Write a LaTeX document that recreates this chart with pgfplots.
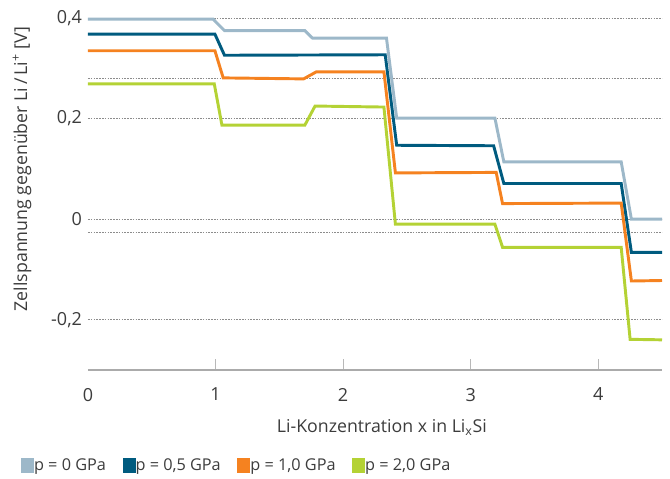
\documentclass[border=0pt]{standalone}
\usepackage{pgfplots}
\pgfplotsset{compat=1.18}
\usepackage{fontspec}
\setmainfont{Open Sans}
\definecolor{lblue}{HTML}{9DB8C9}
\definecolor{dblue}{HTML}{005B7F}
\definecolor{forange}{HTML}{F58220}
\definecolor{flime}{HTML}{B4D235}
\definecolor{txt}{HTML}{3C3C3C}
\begin{document}
\begin{tikzpicture}
\useasboundingbox (-66pt,-81pt) rectangle (436.5pt,277.5pt);
\begin{axis}[
  at={(0pt,0pt)}, anchor=south west,
  scale only axis, width=430.5pt, height=271.5pt,
  xmin=0, xmax=4.5, ymin=-0.3, ymax=0.42,
  axis x line*=bottom, axis y line*=left,
  x axis line style={draw=black!33, line width=0.8pt, -},
  y axis line style={draw=none},
  xtick={1,2,3,4},
  extra x ticks={0}, extra x tick style={major tick length=0pt},
  ytick={-0.2,0,0.2,0.4},
  extra y ticks={0.28,-0.026}, extra y tick labels={},
  extra y tick style={grid=major, major tick length=0pt},
  ytick style={draw=none},
  xtick style={draw=black!28, line width=0.8pt},
  tick align=inside, major tick length=8pt,
  ymajorgrids,
  major grid style={draw=black!45, line width=0.5pt, dash pattern=on 1.2pt off 0.9pt},
  /pgf/number format/use comma,
  /pgf/number format/assume math mode=true,
  tick label style={font=\fontsize{13.5}{15}\selectfont, text=txt},
  xticklabel style={yshift=-10pt},
  yticklabel style={xshift=-1pt},
  label style={font=\fontsize{13.3}{15}\selectfont, text=txt},
  xlabel={Li-Konzentration x in Li\textsubscript{x}Si},
  xlabel style={at={(axis description cs:0.512,-0.16)}, anchor=center},
  ylabel={Zellspannung gegenüber Li\,/\,Li\textsuperscript{+} [V]},
  ylabel style={at={(axis description cs:-0.115,0.555)}, anchor=center, rotate=0},
  legend columns=4,
  legend style={at={(axis description cs:-0.117,-0.265)}, anchor=west, draw=none,
    fill=none, font=\fontsize{12.2}{14}\selectfont, text=txt,
    /tikz/every odd column/.append style={column sep=-2pt},
    /tikz/every even column/.append style={column sep=10.5pt},
    inner sep=0pt},
  legend image code/.code={\fill[#1] (0pt,-4.5pt) rectangle (7.5pt,4.5pt);},
  every axis plot/.append style={line width=2.2pt, line join=miter},
]
\addplot[lblue] coordinates {(0,0.398)(0.98,0.398)(1.07,0.375)(1.70,0.375)(1.76,0.360)(2.34,0.360)(2.42,0.201)(3.19,0.201)(3.26,0.114)(4.18,0.114)(4.26,0)(4.5,0)};
\addplot[dblue] coordinates {(0,0.368)(0.995,0.368)(1.07,0.326)(2.33,0.327)(2.42,0.147)(3.18,0.146)(3.26,0.071)(4.18,0.071)(4.26,-0.066)(4.5,-0.066)};
\addplot[forange] coordinates {(0,0.335)(0.995,0.335)(1.06,0.281)(1.69,0.279)(1.79,0.293)(2.32,0.293)(2.41,0.092)(3.2,0.093)(3.25,0.031)(4.18,0.032)(4.26,-0.123)(4.5,-0.122)};
\addplot[flime] coordinates {(0,0.269)(0.99,0.269)(1.05,0.187)(1.70,0.187)(1.78,0.225)(2.32,0.223)(2.41,-0.010)(3.19,-0.010)(3.25,-0.056)(4.18,-0.056)(4.25,-0.239)(4.5,-0.240)};
\legend{{p = 0 GPa}, {p = 0,5 GPa}, {p = 1,0 GPa}, {p = 2,0 GPa}}
\end{axis}
\end{tikzpicture}
\end{document}
